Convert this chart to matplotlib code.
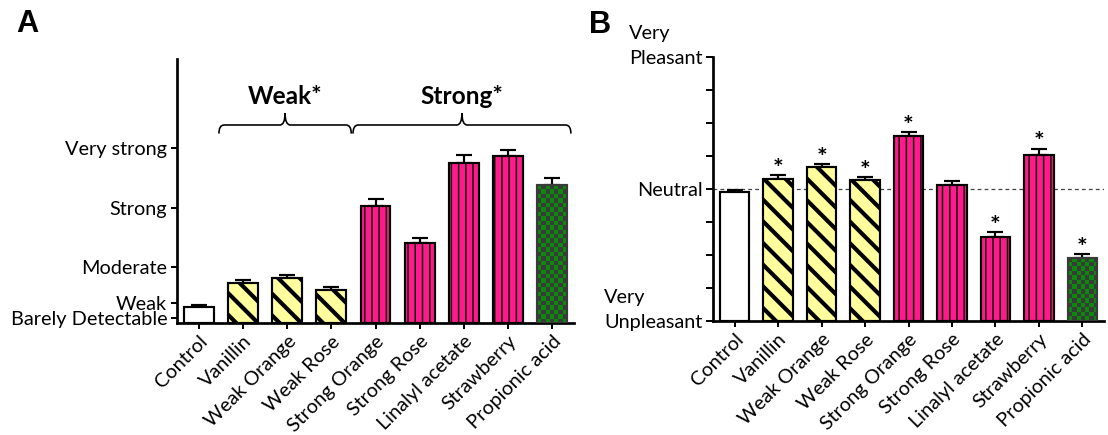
import numpy as np
import matplotlib
matplotlib.use("Agg")
import matplotlib.pyplot as plt
from matplotlib.path import Path
from matplotlib.patches import PathPatch
from matplotlib.colors import ListedColormap
from matplotlib.ticker import FixedLocator, FixedFormatter

# ---------------- data ----------------
categories = ["Control", "Vanillin", "Weak Orange", "Weak Rose", "Strong Orange",
              "Strong Rose", "Linalyl acetate", "Strawberry", "Propionic acid"]
groups = ["control", "weak", "weak", "weak", "strong", "strong", "strong", "strong", "acid"]

intensity = [4.8, 12.0, 13.6, 10.1, 35.4, 24.2, 48.4, 50.7, 41.8]
intensity_err = [0.7, 1.0, 0.9, 0.9, 2.1, 1.6, 2.4, 1.6, 2.0]
intensity_ticks = [1.4, 6, 17, 35, 53]
intensity_tick_labels = ["Barely Detectable", "Weak", "Moderate", "Strong", "Very strong"]
brackets = [("Weak*", 0.45, 3.45), ("Strong*", 3.49, 8.43)]

pleasantness = [-2.3, 7.8, 16.7, 7.1, 40.0, 3.0, -36.7, 25.8, -51.9]
pleasantness_err = [1.3, 2.8, 2.3, 2.0, 3.0, 3.1, 3.8, 4.8, 2.8]
pleasant_sig = [False, True, True, True, True, False, True, True, True]
pleasant_ticks = [-100, -75, -50, -25, 0, 25, 50, 75, 100]
pleasant_tick_labels = ["Unpleasant", "", "", "", "Neutral", "", "", "", "Pleasant"]

# ---------------- style ----------------
DPI = 130
W, H = 1108, 435
FONT = ["Lato", "DejaVu Sans"]
plt.rcParams["font.family"] = FONT
plt.rcParams["hatch.linewidth"] = 2.0

PINK = "#FF1A8C"
YELLOW = "#FFFF9E"
GREEN = "#0A8A0A"
DARK = "#3A3A3A"
styles = {
    "control": dict(facecolor="white", hatch=None, edgecolor="black", hlw=1.0),
    "weak": dict(facecolor=YELLOW, hatch="\\\\", edgecolor="black", hlw=2.3),
    "strong": dict(facecolor=PINK, hatch="|||", edgecolor="black", hlw=0.8),
    "acid": dict(facecolor="none", hatch=None, edgecolor=DARK, hlw=1.0),
}
BAR_W = 0.68
LABEL_FS = 11
SPINE_LW = 1.5

fig = plt.figure(figsize=(W / DPI, H / DPI), dpi=DPI)

def rect(left, right, top, bottom):
    return [left / W, (H - bottom) / H, (right - left) / W, (bottom - top) / H]

axA = fig.add_axes(rect(177, 574, 59, 323))
axB = fig.add_axes(rect(713, 1104, 57, 321))


def style_axes(ax):
    for s in ("top", "right"):
        ax.spines[s].set_visible(False)
    for s in ("left", "bottom"):
        ax.spines[s].set_linewidth(SPINE_LW)
    ax.tick_params(axis="both", direction="out", length=3.4, width=1.1,
                   labelsize=LABEL_FS, pad=2)
    ax.set_xlim(-0.5, 8.5)
    ax.set_xticks(range(len(categories)))
    ax.set_xticklabels(categories, rotation=45, ha="right", rotation_mode="anchor")


def draw_bars(ax, values, errs, bottom):
    x = np.arange(len(values))
    patches = []
    for i, (v, g) in enumerate(zip(values, groups)):
        st = styles[g]
        b = ax.bar(x[i], v - bottom, bottom=bottom, width=BAR_W, color=st["facecolor"],
                   edgecolor=st["edgecolor"], linewidth=1.2, hatch=st["hatch"], zorder=3)[0]
        if hasattr(b, "set_hatch_linewidth"):
            b.set_hatch_linewidth(st["hlw"])
        patches.append(b)
    ax.errorbar(x, values, yerr=[np.zeros(len(values)), errs], fmt="none",
                ecolor="black", elinewidth=1.2, capsize=4.6, capthick=1.2, zorder=2.5)
    return patches


def checker(ax, patches, bottom):
    # checkerboard fill for acid bars, derived from the bar geometry
    cmap = ListedColormap([GREEN, DARK])
    for b, g in zip(patches, groups):
        if g != "acid":
            continue
        x0, y0 = b.get_x(), b.get_y()
        w, h = b.get_width(), b.get_height()
        p0 = ax.transData.transform((x0, y0))
        p1 = ax.transData.transform((x0 + w, y0 + h))
        nx = max(1, int(round((p1[0] - p0[0]) / 4.4)))
        ny = max(1, int(round((p1[1] - p0[1]) / 4.4)))
        arr = (np.add.outer(np.arange(ny), np.arange(nx)) % 2)
        ax.imshow(arr, cmap=cmap, extent=(x0, x0 + w, y0, y0 + h), origin="lower",
                  interpolation="nearest", aspect="auto", zorder=2.8)


def brace(ax, x0, x1, y, h_end, h_peak, rx):
    xc = (x0 + x1) / 2
    verts = [(x0, y - h_end), (x0, y), (x0 + rx, y),
             (xc - rx, y), (xc, y), (xc, y + h_peak),
             (xc, y), (xc + rx, y),
             (x1 - rx, y), (x1, y), (x1, y - h_end)]
    codes = [Path.MOVETO, Path.CURVE3, Path.CURVE3,
             Path.LINETO, Path.CURVE3, Path.CURVE3,
             Path.CURVE3, Path.CURVE3,
             Path.LINETO, Path.CURVE3, Path.CURVE3]
    ax.add_patch(PathPatch(Path(verts, codes), facecolor="none", edgecolor="black",
                           lw=0.9, clip_on=False))


# ---------------- Panel A ----------------
style_axes(axA)
axA.set_ylim(0, 80)
pa = draw_bars(axA, intensity, intensity_err, 0)
axA.set_yticks(intensity_ticks)
axA.set_yticklabels(intensity_tick_labels)
checker(axA, pa, 0)
axA.set_xlim(-0.5, 8.5)
axA.set_ylim(0, 80)
for label, x0, x1 in brackets:
    brace(axA, x0, x1, 60, 2.6, 3.6, 0.12)
    axA.text((x0 + x1) / 2, 68.5, label, ha="center", va="center", fontsize=13.5,
             fontweight="bold")

# ---------------- Panel B ----------------
style_axes(axB)
axB.set_ylim(-100, 100)
axB.axhline(0, color="#444444", lw=0.7, ls=(0, (3, 2.5)), zorder=1)
pb = draw_bars(axB, pleasantness, pleasantness_err, -100)
axB.yaxis.set_major_locator(FixedLocator(pleasant_ticks))
axB.yaxis.set_major_formatter(FixedFormatter(pleasant_tick_labels))
axB.tick_params(axis="y", length=3.9)
checker(axB, pb, -100)
axB.set_xlim(-0.5, 8.5)
axB.set_ylim(-100, 100)
for i, (v, e, s) in enumerate(zip(pleasantness, pleasantness_err, pleasant_sig)):
    if s:
        axB.annotate("*", (i, v + e), xytext=(0, -1), textcoords="offset points",
                     ha="center", va="baseline", fontsize=14, fontweight="bold")

# panel letters
fig.text(16 / W, 1 - 24 / H, "A", fontsize=17, fontweight="bold",
         family=["Liberation Sans", "DejaVu Sans"], ha="left", va="center")
fig.text(589 / W, 1 - 25 / H, "B", fontsize=17, fontweight="bold",
         family=["Liberation Sans", "DejaVu Sans"], ha="left", va="center")

# "Very" above Pleasant / Unpleasant, left aligned with those labels
fig.canvas.draw()
renderer = fig.canvas.get_renderer()
for lab in axB.get_yticklabels():
    if lab.get_text() in ("Pleasant", "Unpleasant"):
        bb = lab.get_window_extent(renderer)
        fig.text(bb.x0 / W, (bb.y0 + 25) / H, "Very", fontsize=LABEL_FS,
                 ha="left", va="bottom")

fig.savefig("out.png", dpi=DPI)
